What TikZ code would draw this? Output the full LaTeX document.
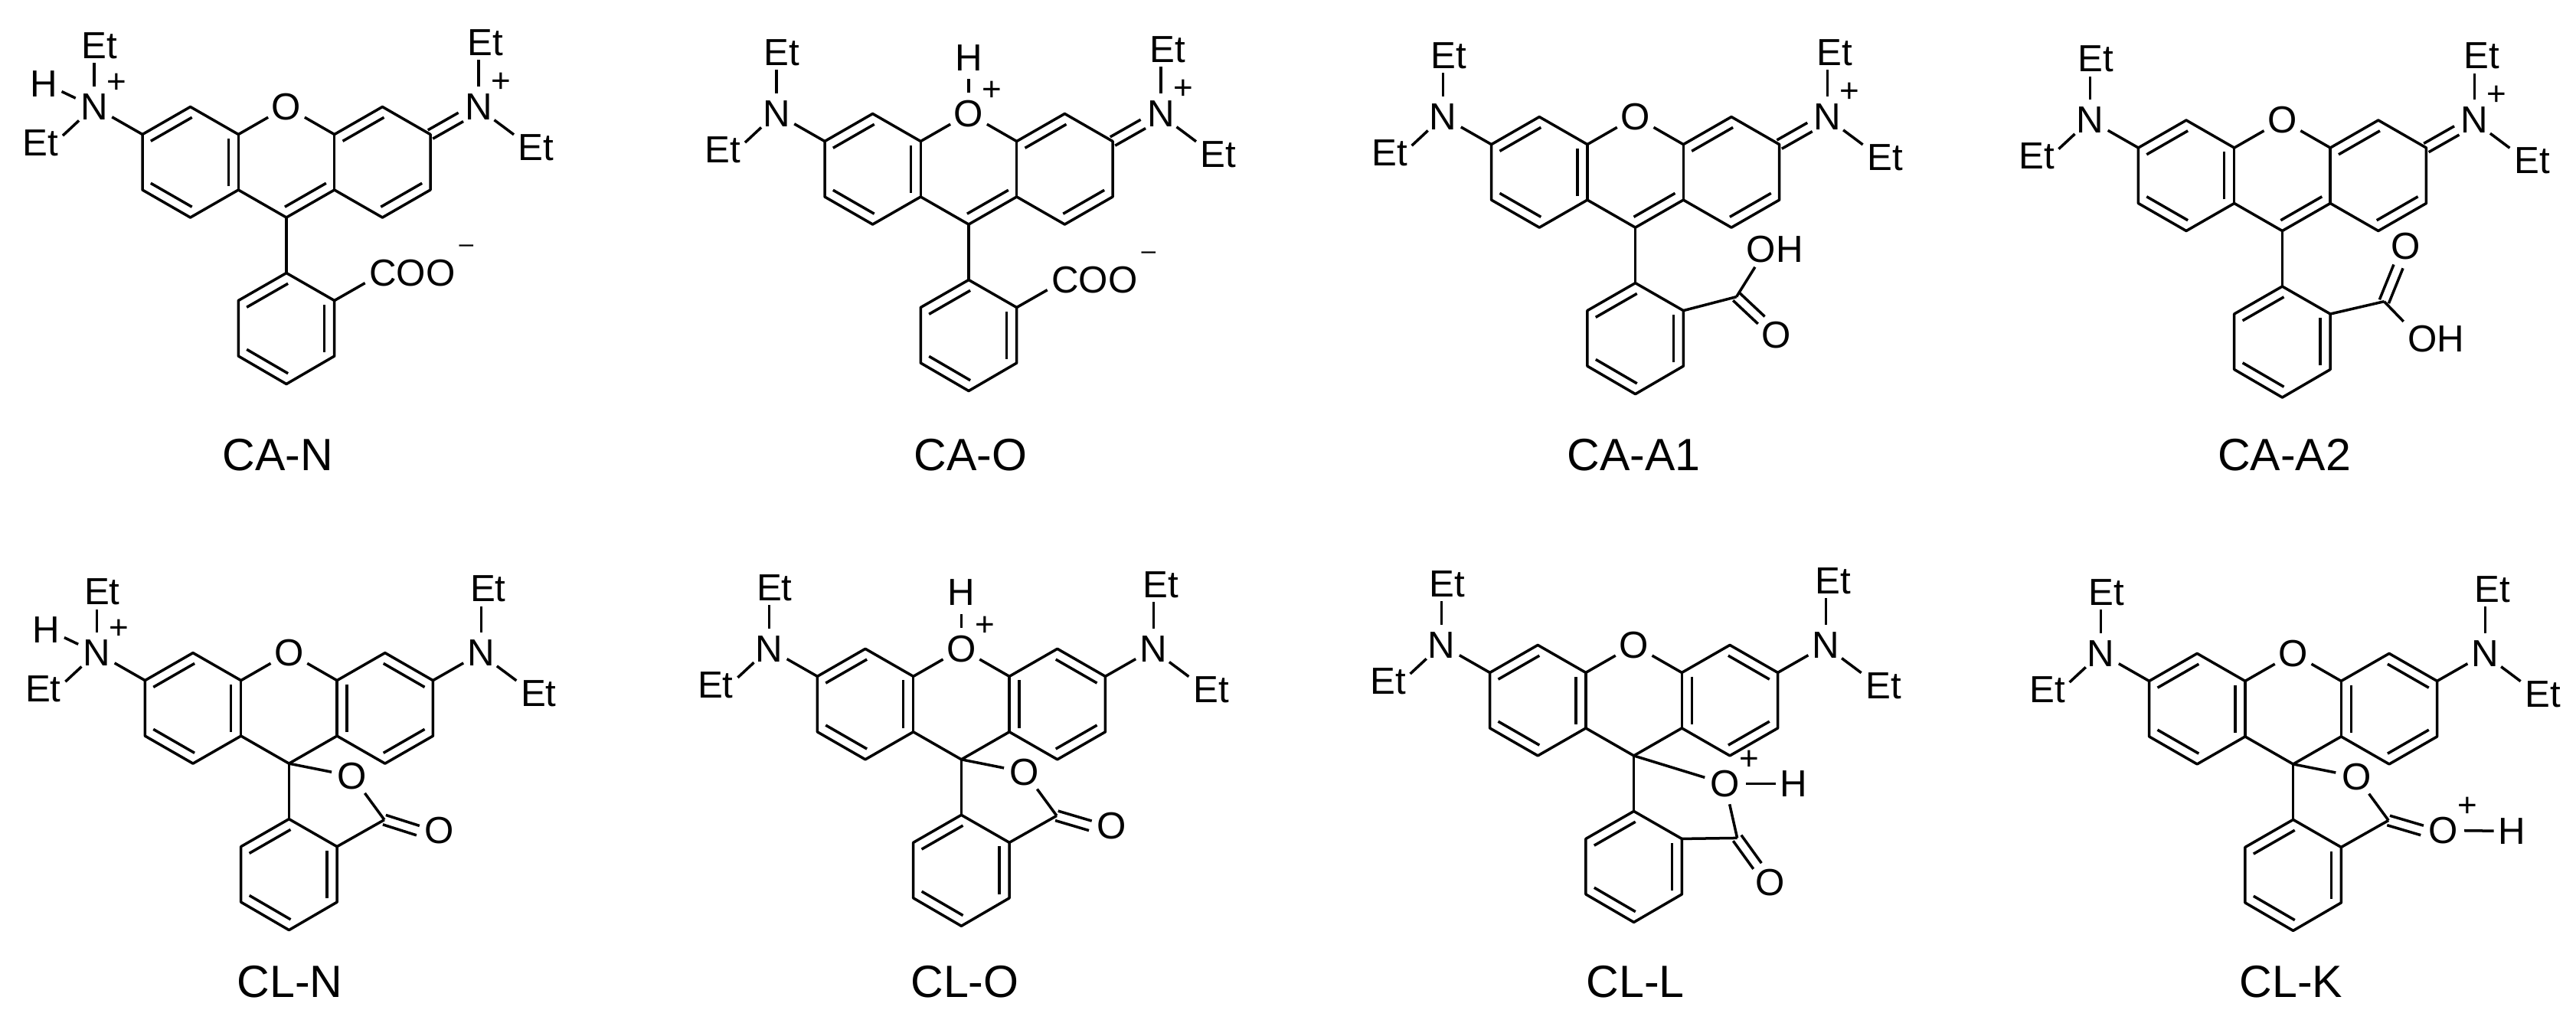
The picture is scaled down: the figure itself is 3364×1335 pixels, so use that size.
\documentclass[tikz,border=0pt]{standalone}
\usepackage{fontspec}
\setmainfont{Liberation Sans}
\usetikzlibrary{calc}

\tikzset{
  atom/.style={circle,inner sep=0pt,minimum size=0.5cm,font=\fontsize{14}{14}\selectfont},
  group/.style={inner sep=0.04cm,font=\fontsize{14}{14}\selectfont},
  charge/.style={inner sep=0pt,font=\fontsize{12.5}{12.5}\selectfont},
  caption/.style={inner sep=0pt,font=\fontsize{16.8}{16.8}\selectfont}
}

% inner line of a ring bond, double bond between two points
\newcommand{\inbond}[2]{\draw ($(#1)!.07!(#2)!.13cm!90:(#2)$) -- ($(#2)!.07!(#1)!.13cm!-90:(#1)$);}
\newcommand{\dbond}[2]{\draw ($(#1)!.065cm!90:(#2)$) -- ($(#2)!.065cm!-90:(#1)$)
  ($(#1)!.065cm!-90:(#2)$) -- ($(#2)!.065cm!90:(#1)$);}

\newcommand{\skeleton}{
  \node[atom] (o_x) at (0,0) {O};
  \coordinate (j_1) at (-62.7,36);
  \coordinate (j_2) at (-62.7,108.5);
  \coordinate (k_1) at (62.7,36);
  \coordinate (k_2) at (62.7,108.5);
  \coordinate (c_9) at (0,144.5);
  \coordinate (l_t) at (-125.4,0);
  \coordinate (l_1) at (-188,36);
  \coordinate (l_2) at (-188,108.5);
  \coordinate (l_b) at (-125.4,144.5);
  \coordinate (r_t) at (125.4,0);
  \coordinate (r_1) at (188,36);
  \coordinate (r_2) at (188,108.5);
  \coordinate (r_b) at (125.4,144.5);
  \coordinate (p_1) at (0,217);
  \coordinate (p_2) at (62.7,253);
  \coordinate (p_3) at (62.7,325.5);
  \coordinate (p_4) at (0,362);
  \coordinate (p_5) at (-62.7,325.5);
  \coordinate (p_6) at (-62.7,253);
  \draw (o_x) -- (j_1) -- (l_t) -- (l_1) -- (l_2) -- (l_b) -- (j_2) -- (c_9) -- (k_2)
    -- (r_b) -- (r_2) -- (r_1) -- (r_t) -- (k_1) -- (o_x);
  \draw (j_1) -- (j_2) (k_1) -- (k_2) (c_9) -- (p_1);
  \draw (p_1) -- (p_2) -- (p_3) -- (p_4) -- (p_5) -- (p_6) -- cycle;
  \foreach \a/\b in {l_t/l_1,l_2/l_b,j_2/j_1,p_1/p_6,p_5/p_4,p_3/p_2}
    {\inbond{\a}{\b}}
}
\newcommand{\opendouble}{
  \foreach \a/\b in {r_t/k_1,r_b/r_2,c_9/k_2}
    {\inbond{\a}{\b}}
}
\newcommand{\closeddouble}{
  \foreach \a/\b in {r_1/r_t,k_1/k_2,r_b/r_2}
    {\inbond{\a}{\b}}
}
\newcommand{\leftamine}{
  \node[atom] (n_l) at (-251,0) {N};
  \node[group] (e_u) at (-244,-80) {Et};
  \node[group] (e_d) at (-321,47) {Et};
  \path (l_1) edge (n_l)
    (n_l.north) edge (n_l.north |- e_u.south)
    (n_l.222) edge (e_d.18);
}
\newcommand{\leftammonium}{
  \leftamine
  \node[group] (h_n) at (-317,-30) {H};
  \node[charge] (c_n) at (-222,-31) {+};
  \path (n_l.155) edge (h_n.-23);
}
\newcommand{\rightamine}{
  \node[atom] (n_r) at (251,0) {N};
  \node[group] (e_t) at (260,-84) {Et};
  \node[group] (e_b) at (326,53) {Et};
  \path (r_1) edge (n_r)
    (n_r.north) edge (n_r.north |- e_t.south)
    (n_r.-40) edge (e_b.150);
}
\newcommand{\rightiminium}{
  \node[atom] (n_r) at (251,0) {N};
  \node[group] (e_t) at (260,-84) {Et};
  \node[group] (e_b) at (326,53) {Et};
  \node[charge] (c_r) at (280,-32) {+};
  \dbond{r_1}{n_r.210}
  \path (n_r.north) edge (n_r.north |- e_t.south)
    (n_r.-40) edge (e_b.150);
}
\newcommand{\carboxylate}{
  \node[group] (c_oo) at (164.5,217) {COO};
  \node[charge,font=\fontsize{9.5}{9.5}\selectfont] (c_m) at (235,185) {–};
  \path (p_2) edge (c_oo.192);
}
\newcommand{\protonoxygen}{
  \node[group] (h_o) at (0,-73.4) {H};
  \node[charge] (c_o) at (30.8,-30) {+};
  \path (o_x.north) edge[shorten >=0.05cm] (h_o.south);
}
\newcommand{\lactone}{
  \node[atom] (o_l) at (82.7,161) {O};
  \coordinate (c_c) at (124.5,218);
  \path (c_9) edge (o_l)
    (o_l) edge (c_c)
    (p_2) edge (c_c);
}

\begin{document}
\begin{tikzpicture}[x=0.01cm,y=-0.01cm,line width=0.035cm,line join=round]

\path[use as bounding box,fill=white] (0,0) rectangle (3364,1335);

\begin{scope}[shift={(374,139.5)}]
  \skeleton \opendouble \leftammonium \rightiminium \carboxylate
\end{scope}

\begin{scope}[shift={(1265,148.5)}]
  \skeleton \opendouble \leftamine \rightiminium \carboxylate \protonoxygen
\end{scope}

\begin{scope}[shift={(2135.6,152.6)}]
  \skeleton \opendouble \leftamine \rightiminium
  \coordinate (c_c) at (132,235);
  \node[group] (o_h) at (182,173) {OH};
  \node[atom] (o_d) at (184,285) {O};
  \path (p_2) edge (c_c) (c_c) edge (o_h.222);
  \dbond{c_c}{o_d.135}
\end{scope}

\begin{scope}[shift={(2980.4,157)}]
  \skeleton \opendouble \leftamine \rightiminium
  \coordinate (c_c) at (133,236.7);
  \node[group] (o_h) at (201,286) {OH};
  \node[atom] (o_d) at (161,165) {O};
  \path (p_2) edge (c_c) (c_c) edge (o_h.north west);
  \dbond{c_c}{o_d.250}
\end{scope}

\begin{scope}[shift={(377.4,852.6)}]
  \skeleton \closeddouble \leftammonium \rightamine \lactone
  \node[atom] (o_d) at (196,232) {O};
  \dbond{c_c}{o_d.west}
\end{scope}

\begin{scope}[shift={(1255.4,847.3)}]
  \skeleton \closeddouble \leftamine \rightamine \lactone \protonoxygen
  \node[atom] (o_d) at (196,231) {O};
  \dbond{c_c}{o_d.west}
\end{scope}

\begin{scope}[shift={(2133.6,842.4)}]
  \skeleton \closeddouble \leftamine \rightamine
  \coordinate (c_c) at (135,252);
  \node[atom] (o_p) at (119,181) {O};
  \node[group] (h_p) at (208.7,181) {H};
  \node[charge] (c_p) at (151,150) {+};
  \node[atom] (o_d) at (178,310.6) {O};
  \path (c_9) edge (o_p)
    (o_p) edge (c_c)
    (p_2) edge (c_c)
    (o_p) edge (h_p);
  \dbond{c_c}{o_d.127}
\end{scope}

\begin{scope}[shift={(2994.6,853.4)}]
  \skeleton \closeddouble \leftamine \rightamine \lactone
  \node[atom] (o_d) at (196,231) {O};
  \node[group] (h_p) at (285.6,232) {H};
  \node[charge] (c_p) at (228,200.6) {+};
  \path (o_d) edge (h_p);
  \dbond{c_c}{o_d.west}
\end{scope}

\node[caption] (t_1) at (363,594) {CA-N};
\node[caption] (t_2) at (1267.7,594) {CA-O};
\node[caption] (t_3) at (2133.6,594) {CA-A1};
\node[caption] (t_4) at (2983,594) {CA-A2};
\node[caption] (t_5) at (378.5,1282) {CL-N};
\node[caption] (t_6) at (1260,1282) {CL-O};
\node[caption] (t_7) at (2135.6,1282) {CL-L};
\node[caption] (t_8) at (2992,1282) {CL-K};

\end{tikzpicture}
\end{document}
